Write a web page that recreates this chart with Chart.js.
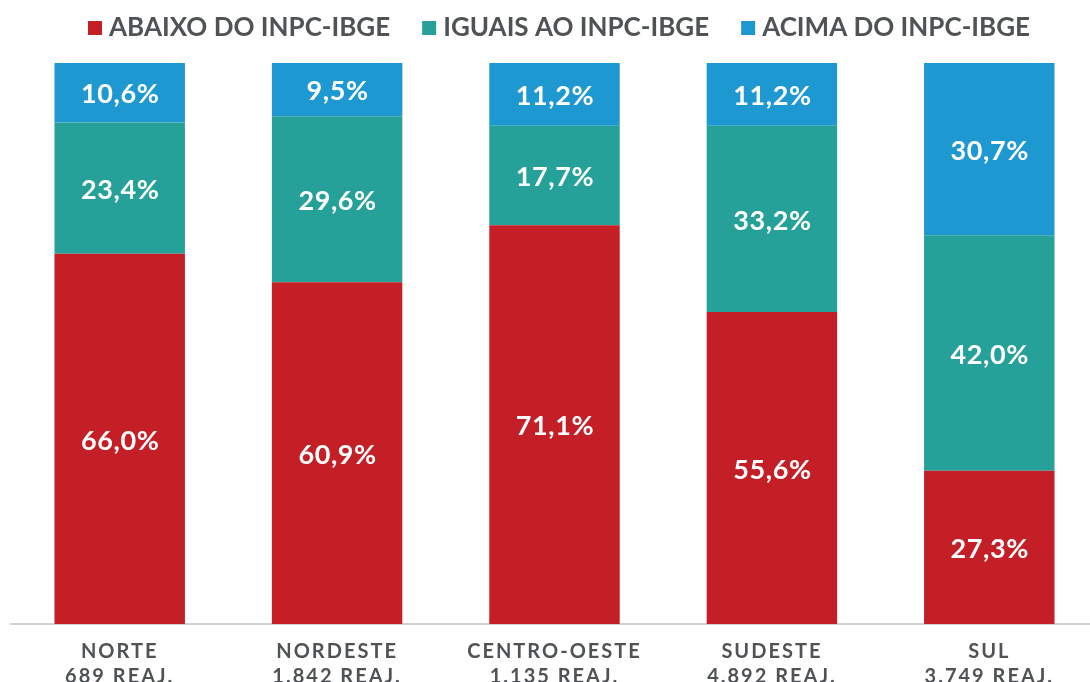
<!DOCTYPE html>
<html><head><meta charset="utf-8">
<script src="https://cdn.jsdelivr.net/npm/chart.js@4.4.1/dist/chart.umd.min.js"></script>
<style>
html,body{margin:0;padding:0;background:#fff;overflow:hidden;}
#wrap{position:relative;width:1100px;height:682px;}
</style></head><body>
<div id="wrap"><canvas id="c"></canvas></div>
<script>
const regions = ['NORTE','NORDESTE','CENTRO-OESTE','SUDESTE','SUL'];
const reajustes = ['689 REAJ.','1.842 REAJ.','1.135 REAJ.','4.892 REAJ.','3.749 REAJ.'];
const seriesNames = ['ABAIXO DO INPC-IBGE','IGUAIS AO INPC-IBGE','ACIMA DO INPC-IBGE'];
const abaixo = [66.0, 60.9, 71.1, 55.6, 27.3];
const iguais = [23.4, 29.6, 17.7, 33.2, 42.0];
const acima  = [10.6, 9.5, 11.2, 11.2, 30.7];
const colors = ['#C41F26', '#26A199', '#1E98D0'];
const textColor = '#4F5355';

const labels = regions.map((r, i) => [r, reajustes[i]]);
const seriesValues = [abaixo, iguais, acima];

const fmt = v => v.toFixed(1).replace('.', ',') + '%';

const valueLabels = {
  id: 'valueLabels',
  afterDatasetsDraw(chart) {
    const ctx = chart.ctx;
    ctx.save();
    ctx.font = '700 27px Lato';
    ctx.letterSpacing = '0.6px';
    ctx.fillStyle = '#ffffff';
    ctx.textAlign = 'center';
    ctx.textBaseline = 'middle';
    chart.data.datasets.forEach((ds, di) => {
      const meta = chart.getDatasetMeta(di);
      meta.data.forEach((el, i) => {
        const p = el.getProps(['x', 'y', 'base'], true);
        ctx.fillText(fmt(ds.data[i]), p.x + 0.5, (p.y + p.base) / 2 + 2);
      });
    });
    ctx.restore();
  }
};

const customLegend = {
  id: 'customLegend',
  afterDraw(chart) {
    const ctx = chart.ctx;
    ctx.save();
    ctx.font = '700 26px Lato';
    const items = chart.data.datasets.map(d => ({ text: d.label, color: d.backgroundColor, w: ctx.measureText(d.label).width }));
    const box = 14, gap = 7, sep = 32;
    const total = items.reduce((a, it) => a + box + gap + it.w, 0) + sep * (items.length - 1);
    let x = 559 - total / 2;
    ctx.textBaseline = 'alphabetic';
    ctx.textAlign = 'left';
    items.forEach(it => {
      ctx.fillStyle = it.color;
      ctx.fillRect(x, 21, box, 14);
      x += box + gap;
      ctx.fillStyle = textColor;
      ctx.fillText(it.text, x, 36);
      x += it.w + sep;
    });
    ctx.restore();
  }
};

const tickSpacing = {
  id: 'tickSpacing',
  beforeDraw(chart) {
    const s = chart.scales.x;
    if (s && !s._lsPatched) {
      const orig = s.drawLabels;
      s.drawLabels = function (ca) {
        const ctx = this.ctx;
        ctx.save();
        ctx.letterSpacing = '2px';
        orig.call(this, ca);
        ctx.restore();
      };
      s._lsPatched = true;
    }
  }
};

new Chart(document.getElementById('c'), {
  type: 'bar',
  data: {
    labels: labels,
    datasets: seriesNames.map((n, i) => ({
      label: n,
      data: seriesValues[i],
      backgroundColor: colors[i],
      borderWidth: 0,
      categoryPercentage: 1.0,
      barPercentage: 0.6
    }))
  },
  options: {
    responsive: true,
    maintainAspectRatio: false,
    animation: false,
    devicePixelRatio: 1,
    layout: { padding: { top: 63, left: 11, right: 2, bottom: 0 } },
    plugins: { legend: { display: false }, tooltip: { enabled: false } },
    scales: {
      x: {
        stacked: true,
        grid: { display: false, drawTicks: false },
        border: { display: true, color: '#D2D2D2', width: 2 },
        ticks: {
          color: textColor,
          font: { family: 'Lato', weight: 'bold', size: 20, lineHeight: 1.25 },
          padding: 15,
          maxRotation: 0,
          autoSkip: false
        },
        afterFit: s => { s.height = 58; }
      },
      y: { stacked: true, display: false, min: 0, max: 100 }
    }
  },
  plugins: [valueLabels, customLegend, tickSpacing]
});
</script>
</body></html>
